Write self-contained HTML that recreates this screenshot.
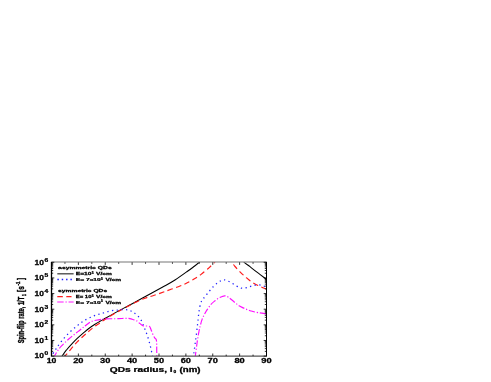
<!DOCTYPE html><html><head><meta charset="utf-8"><style>html,body{margin:0;padding:0;background:#fff}svg{display:block}text{font-family:"Liberation Sans",sans-serif;font-weight:bold;fill:#000;stroke:#000;stroke-width:0.25px}.yt text{stroke-width:0.4px}</style></head><body>
<svg width="491" height="382" viewBox="0 0 491 382">
<rect width="491" height="382" fill="#fff"/>
<defs><clipPath id="c"><rect x="51.50" y="262.30" width="215.00" height="93.80"/></clipPath></defs>
<filter id="b" x="0" y="0" width="491" height="382" filterUnits="userSpaceOnUse"><feGaussianBlur stdDeviation="0.45"/></filter>
<g id="blurwrap" filter="url(#b)">
<g clip-path="url(#c)" fill="none" stroke-linecap="butt" stroke-linejoin="round">
<path d="M60.7 358.0 C60.9 357.7 61.2 357.4 62.1 356.1 C63.0 354.8 64.7 352.2 66.3 350.2 C67.9 348.1 70.0 345.8 71.9 343.8 C73.8 341.8 75.6 340.0 77.5 338.2 C79.4 336.4 81.3 334.7 83.2 333.1 C85.1 331.5 86.8 330.0 88.8 328.5 C90.8 327.0 93.1 325.5 95.0 324.3 C96.9 323.1 98.3 322.3 100.0 321.3 C101.7 320.3 102.8 319.7 105.3 318.3 C107.8 316.9 111.8 314.7 115.0 312.9 C118.2 311.1 121.9 309.1 124.8 307.6 C127.7 306.1 128.0 306.0 132.2 303.7 C136.4 301.4 144.5 297.0 150.0 294.0 C155.5 291.0 160.8 288.1 165.0 285.8 C169.2 283.5 171.4 282.3 175.0 280.0 C178.6 277.7 183.6 274.1 186.8 271.8 C190.0 269.6 191.9 268.1 194.0 266.5 C196.1 264.9 197.9 263.4 199.4 262.0 C200.9 260.6 202.4 258.7 203.0 258.0" stroke="#000" stroke-width="1.05"/>
<path d="M241.0 258.2 C241.5 258.9 242.7 260.9 244.2 262.3 C245.7 263.7 247.7 264.9 250.0 266.7 C252.3 268.5 255.2 270.8 258.0 272.9 C260.8 275.0 264.9 278.2 266.6 279.5 C268.3 280.8 267.8 280.4 268.0 280.6" stroke="#000" stroke-width="1.05"/>
<path d="M63.8 358.0 C64.0 357.7 64.1 357.3 65.1 356.1 C66.1 354.9 68.2 352.4 69.6 350.7 C71.0 349.0 72.3 347.4 73.6 345.9 C74.9 344.4 75.9 343.2 77.5 341.6 C79.1 340.0 81.3 337.9 83.2 336.2 C85.1 334.5 87.0 332.8 88.8 331.3 C90.6 329.8 92.0 328.4 93.9 327.0 C95.8 325.6 98.0 324.2 100.0 322.8 C102.0 321.4 103.5 320.3 106.0 318.7 C108.5 317.1 111.9 315.1 115.0 313.3 C118.1 311.5 121.5 309.7 124.8 307.9 C128.1 306.1 131.6 304.2 135.0 302.6 C138.4 301.0 141.9 299.4 145.0 298.2 C148.1 297.0 150.3 296.6 153.6 295.5 C156.9 294.4 160.6 293.1 165.0 291.5 C169.4 289.9 176.4 287.4 180.0 286.0 C183.6 284.6 184.5 284.2 186.8 283.0 C189.1 281.8 191.7 280.4 194.0 279.0 C196.3 277.6 198.3 276.5 200.8 274.6 C203.3 272.7 206.9 269.7 209.2 267.6 C211.5 265.5 213.5 263.4 214.8 262.0 C216.1 260.6 216.6 259.5 217.0 259.0" stroke="#ff1a1a" stroke-width="1.15" stroke-dasharray="5.5 3.5"/>
<path d="M229.5 259.0 C229.8 259.5 230.7 260.8 231.6 262.0 C232.5 263.2 233.6 264.9 235.0 266.5 C236.4 268.1 238.3 270.1 240.0 271.8 C241.7 273.5 243.1 274.9 245.0 276.5 C246.9 278.1 249.0 280.1 251.2 281.6 C253.4 283.1 255.4 284.2 258.0 285.5 C260.6 286.8 265.2 288.6 266.6 289.2" stroke="#ff1a1a" stroke-width="1.15" stroke-dasharray="5.5 3.5" stroke-dashoffset="2"/>
<path d="M50.5 357.5 C50.7 357.2 50.6 357.4 51.5 356.0 C52.4 354.6 54.4 351.3 56.0 348.9 C57.6 346.5 59.1 344.2 61.3 341.5 C63.5 338.8 66.3 335.6 69.0 332.9 C71.7 330.2 74.9 327.5 77.6 325.4 C80.3 323.3 82.3 321.8 85.0 320.2 C87.7 318.6 91.1 317.0 93.9 315.9 C96.7 314.8 99.3 314.2 102.0 313.4 C104.7 312.6 107.5 311.6 110.2 311.0 C112.9 310.4 115.8 310.2 118.0 310.0 C120.2 309.8 121.8 309.6 123.5 309.6 C125.2 309.6 126.7 309.6 128.0 309.9 C129.3 310.2 130.4 310.7 131.5 311.2 C132.6 311.7 133.3 312.3 134.3 313.0 C135.3 313.7 136.4 314.5 137.5 315.6 C138.6 316.7 139.9 318.1 140.8 319.6 C141.7 321.1 142.3 322.8 143.0 324.4 C143.7 326.0 144.3 327.5 145.0 329.4 C145.7 331.2 146.6 333.4 147.3 335.5 C148.0 337.6 148.7 339.9 149.3 342.2 C149.9 344.4 150.5 346.7 151.0 349.0 C151.5 351.3 152.2 354.6 152.5 356.1 C152.8 357.6 152.9 357.7 153.0 358.0" stroke="#2020ff" stroke-width="1.25" stroke-dasharray="1.3 3.4"/>
<path d="M193.0 358.0 C193.1 357.7 193.0 358.9 193.4 356.1 C193.8 353.3 194.8 346.2 195.5 341.0 C196.2 335.8 197.0 329.5 197.5 325.0 C198.0 320.5 198.3 317.1 198.7 314.0 C199.1 310.9 199.4 308.5 199.9 306.4 C200.4 304.3 200.9 302.7 201.4 301.4 C201.9 300.1 202.5 299.5 203.0 298.8 C203.5 298.1 203.6 298.4 204.6 297.2 C205.6 296.0 207.5 293.4 209.0 291.6 C210.5 289.8 212.1 287.9 213.5 286.4 C214.9 284.9 216.3 283.8 217.6 282.8 C218.8 281.9 220.0 281.2 221.0 280.7 C222.0 280.2 222.7 279.8 223.8 279.8 C224.9 279.8 226.2 280.3 227.5 280.8 C228.8 281.3 230.2 282.2 231.6 283.0 C233.0 283.8 234.6 285.0 236.0 285.8 C237.4 286.6 238.8 287.4 240.0 287.8 C241.2 288.2 242.2 288.3 243.5 288.2 C244.8 288.1 246.2 287.7 247.5 287.4 C248.8 287.1 249.9 286.6 251.2 286.2 C252.5 285.8 254.1 285.3 255.5 285.1 C256.9 284.9 258.4 284.8 259.6 284.9 C260.9 285.0 261.8 285.3 263.0 285.7 C264.2 286.1 266.0 286.9 266.6 287.2" stroke="#2020ff" stroke-width="1.25" stroke-dasharray="1.3 3.4"/>
<path d="M53.6 358.0 C53.8 357.7 53.9 357.3 54.5 356.1 C55.1 354.9 56.4 352.6 57.5 351.0 C58.6 349.4 59.4 348.2 61.3 346.2 C63.2 344.2 66.3 341.2 69.0 338.8 C71.7 336.4 74.9 334.0 77.6 331.9 C80.3 329.8 82.9 327.6 85.0 326.0 C87.1 324.4 88.5 323.2 90.0 322.3 C91.5 321.4 92.2 321.1 93.9 320.7 C95.6 320.2 98.2 319.9 100.0 319.6 C101.8 319.3 102.5 319.0 105.0 318.9 C107.5 318.8 112.2 318.8 115.0 318.7 C117.8 318.6 119.8 318.6 122.0 318.5 C124.2 318.4 126.2 318.3 127.9 318.4 C129.6 318.5 130.6 318.8 132.0 319.2 C133.4 319.6 135.2 320.1 136.5 320.8 C137.8 321.5 138.9 322.8 140.0 323.6 C141.1 324.4 141.9 325.3 142.9 325.7 C143.9 326.1 144.9 325.9 146.0 326.0 C147.1 326.1 148.5 325.9 149.3 326.3 C150.1 326.7 150.1 327.3 150.6 328.5 C151.1 329.7 151.8 332.0 152.5 333.6 C153.2 335.2 154.1 336.9 154.7 337.9 C155.3 338.9 155.9 338.8 156.2 339.5 C156.5 340.2 156.5 340.6 156.6 342.0 C156.7 343.4 156.7 345.6 156.7 348.0 C156.7 350.4 156.8 354.4 156.8 356.1 C156.8 357.8 156.8 357.7 156.8 358.0" stroke="#ff10ff" stroke-width="1.15" stroke-dasharray="6.3 1.9 1.2 1.9"/>
<path d="M195.0 358.0 C195.1 357.7 195.0 358.4 195.3 356.1 C195.6 353.8 196.4 347.8 196.9 344.0 C197.4 340.2 198.0 336.5 198.6 333.4 C199.2 330.3 199.7 327.8 200.3 325.5 C200.9 323.2 201.4 321.3 202.1 319.4 C202.8 317.5 203.8 315.6 204.6 314.0 C205.4 312.4 206.1 311.2 207.2 309.6 C208.3 308.0 209.7 305.9 211.0 304.4 C212.3 302.9 213.8 301.8 215.0 300.8 C216.2 299.8 217.4 299.0 218.5 298.3 C219.6 297.6 220.5 297.2 221.5 296.8 C222.5 296.4 223.5 295.8 224.6 295.8 C225.7 295.8 226.8 296.3 228.0 297.0 C229.2 297.7 230.3 298.7 231.6 299.8 C232.9 300.9 234.6 302.3 236.0 303.4 C237.4 304.5 238.4 305.3 240.0 306.2 C241.6 307.1 243.6 308.1 245.5 308.9 C247.4 309.7 249.1 310.4 251.2 311.0 C253.3 311.6 255.4 312.1 258.0 312.6 C260.6 313.1 265.2 313.6 266.6 313.8" stroke="#ff10ff" stroke-width="1.15" stroke-dasharray="6.3 1.9 1.2 1.9"/>
</g>
<path d="M51.50 261.90V356.50" stroke="#000" stroke-width="1.3"/>
<path d="M266.50 261.90V356.50" stroke="#000" stroke-width="1.0"/>
<path d="M51.50 262.00H266.50" stroke="#777" stroke-width="1.2"/>
<path d="M51.50 356.10H266.50" stroke="#555" stroke-width="1.1"/>
<path d="M51.50 356.10v-2.60M51.50 262.30v2.60M64.94 356.10v-1.50M64.94 262.30v1.50M78.38 356.10v-2.60M78.38 262.30v2.60M91.81 356.10v-1.50M91.81 262.30v1.50M105.25 356.10v-2.60M105.25 262.30v2.60M118.69 356.10v-1.50M118.69 262.30v1.50M132.12 356.10v-2.60M132.12 262.30v2.60M145.56 356.10v-1.50M145.56 262.30v1.50M159.00 356.10v-2.60M159.00 262.30v2.60M172.44 356.10v-1.50M172.44 262.30v1.50M185.88 356.10v-2.60M185.88 262.30v2.60M199.31 356.10v-1.50M199.31 262.30v1.50M212.75 356.10v-2.60M212.75 262.30v2.60M226.19 356.10v-1.50M226.19 262.30v1.50M239.62 356.10v-2.60M239.62 262.30v2.60M253.06 356.10v-1.50M253.06 262.30v1.50M266.50 356.10v-2.60M266.50 262.30v2.60M51.50 356.10h2.8M266.50 356.10h-2.8M51.50 351.39h1.7M266.50 351.39h-1.7M51.50 348.64h1.7M266.50 348.64h-1.7M51.50 346.69h1.7M266.50 346.69h-1.7M51.50 345.17h1.7M266.50 345.17h-1.7M51.50 343.93h1.7M266.50 343.93h-1.7M51.50 342.89h1.7M266.50 342.89h-1.7M51.50 341.98h1.7M266.50 341.98h-1.7M51.50 341.18h1.7M266.50 341.18h-1.7M51.50 340.47h2.8M266.50 340.47h-2.8M51.50 335.76h1.7M266.50 335.76h-1.7M51.50 333.01h1.7M266.50 333.01h-1.7M51.50 331.05h1.7M266.50 331.05h-1.7M51.50 329.54h1.7M266.50 329.54h-1.7M51.50 328.30h1.7M266.50 328.30h-1.7M51.50 327.25h1.7M266.50 327.25h-1.7M51.50 326.35h1.7M266.50 326.35h-1.7M51.50 325.55h1.7M266.50 325.55h-1.7M51.50 324.83h2.8M266.50 324.83h-2.8M51.50 320.13h1.7M266.50 320.13h-1.7M51.50 317.37h1.7M266.50 317.37h-1.7M51.50 315.42h1.7M266.50 315.42h-1.7M51.50 313.91h1.7M266.50 313.91h-1.7M51.50 312.67h1.7M266.50 312.67h-1.7M51.50 311.62h1.7M266.50 311.62h-1.7M51.50 310.72h1.7M266.50 310.72h-1.7M51.50 309.92h1.7M266.50 309.92h-1.7M51.50 309.20h2.8M266.50 309.20h-2.8M51.50 304.49h1.7M266.50 304.49h-1.7M51.50 301.74h1.7M266.50 301.74h-1.7M51.50 299.79h1.7M266.50 299.79h-1.7M51.50 298.27h1.7M266.50 298.27h-1.7M51.50 297.03h1.7M266.50 297.03h-1.7M51.50 295.99h1.7M266.50 295.99h-1.7M51.50 295.08h1.7M266.50 295.08h-1.7M51.50 294.28h1.7M266.50 294.28h-1.7M51.50 293.57h2.8M266.50 293.57h-2.8M51.50 288.86h1.7M266.50 288.86h-1.7M51.50 286.11h1.7M266.50 286.11h-1.7M51.50 284.15h1.7M266.50 284.15h-1.7M51.50 282.64h1.7M266.50 282.64h-1.7M51.50 281.40h1.7M266.50 281.40h-1.7M51.50 280.35h1.7M266.50 280.35h-1.7M51.50 279.45h1.7M266.50 279.45h-1.7M51.50 278.65h1.7M266.50 278.65h-1.7M51.50 277.93h2.8M266.50 277.93h-2.8M51.50 273.23h1.7M266.50 273.23h-1.7M51.50 270.47h1.7M266.50 270.47h-1.7M51.50 268.52h1.7M266.50 268.52h-1.7M51.50 267.01h1.7M266.50 267.01h-1.7M51.50 265.77h1.7M266.50 265.77h-1.7M51.50 264.72h1.7M266.50 264.72h-1.7M51.50 263.82h1.7M266.50 263.82h-1.7M51.50 263.02h1.7M266.50 263.02h-1.7M51.50 262.30h2.8M266.50 262.30h-2.8" stroke="#000" stroke-width="0.8" fill="none"/>
<text transform="translate(46.70 363.30) scale(1.331 1)" x="-0.00" y="0" font-size="6.50">10</text>
<text transform="translate(73.22 363.30) scale(1.428 1)" x="-0.00" y="0" font-size="6.50">20</text>
<text transform="translate(100.10 363.30) scale(1.428 1)" x="-0.00" y="0" font-size="6.50">30</text>
<text transform="translate(126.97 363.30) scale(1.428 1)" x="-0.00" y="0" font-size="6.50">40</text>
<text transform="translate(153.85 363.30) scale(1.428 1)" x="-0.00" y="0" font-size="6.50">50</text>
<text transform="translate(180.72 363.30) scale(1.428 1)" x="-0.00" y="0" font-size="6.50">60</text>
<text transform="translate(207.60 363.30) scale(1.428 1)" x="-0.00" y="0" font-size="6.50">70</text>
<text transform="translate(234.47 363.30) scale(1.428 1)" x="-0.00" y="0" font-size="6.50">80</text>
<text transform="translate(261.35 363.30) scale(1.428 1)" x="-0.00" y="0" font-size="6.50">90</text>
<text transform="translate(34.60 358.40) scale(1.303 1)" x="-0.00" y="0" font-size="6.50">10</text>
<text transform="translate(44.50 355.40) scale(1.389 1)" x="-0.00" y="0" font-size="4.80">0</text>
<text transform="translate(34.60 342.77) scale(1.303 1)" x="-0.00" y="0" font-size="6.50">10</text>
<text transform="translate(44.50 339.77) scale(1.389 1)" x="-0.00" y="0" font-size="4.80">1</text>
<text transform="translate(34.60 327.13) scale(1.303 1)" x="-0.00" y="0" font-size="6.50">10</text>
<text transform="translate(44.50 324.13) scale(1.389 1)" x="-0.00" y="0" font-size="4.80">2</text>
<text transform="translate(34.60 311.50) scale(1.303 1)" x="-0.00" y="0" font-size="6.50">10</text>
<text transform="translate(44.50 308.50) scale(1.389 1)" x="-0.00" y="0" font-size="4.80">3</text>
<text transform="translate(34.60 295.87) scale(1.303 1)" x="-0.00" y="0" font-size="6.50">10</text>
<text transform="translate(44.50 292.87) scale(1.389 1)" x="-0.00" y="0" font-size="4.80">4</text>
<text transform="translate(34.60 280.23) scale(1.303 1)" x="-0.00" y="0" font-size="6.50">10</text>
<text transform="translate(44.50 277.23) scale(1.389 1)" x="-0.00" y="0" font-size="4.80">5</text>
<text transform="translate(34.60 264.60) scale(1.303 1)" x="-0.00" y="0" font-size="6.50">10</text>
<text transform="translate(44.50 261.60) scale(1.389 1)" x="-0.00" y="0" font-size="4.80">6</text>
<text transform="translate(109.80 371.50) scale(1.621 1)" x="-0.00" y="0" font-size="6.30">QDs radius, l</text>
<text transform="translate(173.60 373.40) scale(1.216 1)" x="-0.00" y="0" font-size="4.00">0</text>
<text transform="translate(179.60 371.50) scale(1.540 1)" x="-0.00" y="0" font-size="6.30">(nm)</text>
<g transform="translate(24.3 343.3) rotate(-90)" class="yt">
<text transform="translate(0.00 0.00) scale(0.668 1)" x="-0.00" y="0" font-size="8.60">Spin-flip rate, 1/T</text>
<text transform="translate(47.20 2.00) scale(0.589 1)" x="-0.00" y="0" font-size="5.20">1</text>
<text transform="translate(51.40 0.00) scale(0.758 1)" x="-0.00" y="0" font-size="8.60">[s</text>
<text transform="translate(57.80 -4.40) scale(0.821 1)" x="-0.00" y="0" font-size="5.20">-1</text>
<text transform="translate(63.20 0.00) scale(0.694 1)" x="-0.00" y="0" font-size="8.60">]</text>
</g>
<text transform="translate(58.10 269.00) scale(1.622 1)" x="-0.00" y="0" font-size="4.20">asymmetric QDs</text>
<text transform="translate(58.10 291.70) scale(1.597 1)" x="-0.00" y="0" font-size="4.20">symmetric QDs</text>
<path d="M57.3 273.8H73.6" stroke="#444" stroke-width="1.3"/>
<path d="M57.4 279.5H73" stroke="#1a1aff" stroke-width="1.3" stroke-dasharray="1.4 2.95"/>
<path d="M57.3 296.6H71.5" stroke="#ff1a1a" stroke-width="1.2" stroke-dasharray="5.5 3.5"/>
<path d="M57.3 302H73.6" stroke="#ff10ff" stroke-width="1.2" stroke-dasharray="6.3 1.9 1.2 1.9"/>
<text transform="translate(75.70 275.40) scale(1.591 1)" x="-0.00" y="0" font-size="4.20">E=10</text><text transform="translate(91.70 273.90) scale(1.141 1)" x="-0.00" y="0" font-size="3.00">5</text><text transform="translate(96.10 275.40) scale(1.574 1)" x="-0.00" y="0" font-size="4.20">V/cm</text>
<text transform="translate(75.70 281.10) scale(1.592 1)" x="-0.00" y="0" font-size="4.20">E= 7x10</text><text transform="translate(101.00 279.60) scale(1.141 1)" x="-0.00" y="0" font-size="3.00">5</text><text transform="translate(105.40 281.10) scale(1.574 1)" x="-0.00" y="0" font-size="4.20">V/cm</text>
<text transform="translate(75.70 298.20) scale(1.425 1)" x="-0.00" y="0" font-size="4.20">E= 10</text><text transform="translate(91.70 296.70) scale(1.141 1)" x="-0.00" y="0" font-size="3.00">5</text><text transform="translate(96.10 298.20) scale(1.574 1)" x="-0.00" y="0" font-size="4.20">V/cm</text>
<text transform="translate(75.70 303.60) scale(1.592 1)" x="-0.00" y="0" font-size="4.20">E= 7x10</text><text transform="translate(101.00 302.10) scale(1.141 1)" x="-0.00" y="0" font-size="3.00">5</text><text transform="translate(105.40 303.60) scale(1.574 1)" x="-0.00" y="0" font-size="4.20">V/cm</text>
</g></svg></body></html>
